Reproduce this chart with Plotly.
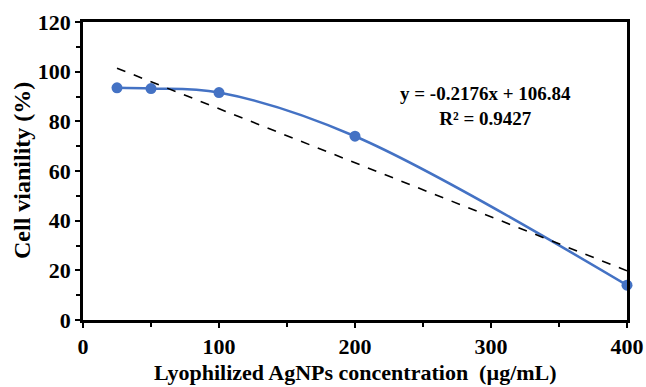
import plotly.graph_objects as go

conc = [25, 50, 100, 200, 400]
viability = [93.5, 93.2, 91.6, 74.0, 14.0]
slope = -0.2176
intercept = 106.84
trend_x = [25, 400]
trend_y = [slope * x + intercept for x in trend_x]
x_ticks = [0, 100, 200, 300, 400]
y_ticks = [0, 20, 40, 60, 80, 100, 120]

FONT = "Times New Roman, Liberation Serif, serif"

fig = go.Figure()
fig.add_trace(go.Scatter(
    x=conc, y=viability, mode="lines+markers",
    line=dict(color="#4472C4", width=2.5, shape="spline", smoothing=1.0),
    marker=dict(color="#4472C4", size=11),
    cliponaxis=False, showlegend=False))
fig.add_trace(go.Scatter(
    x=trend_x, y=trend_y, mode="lines",
    line=dict(color="black", width=1.6, dash="dash"),
    cliponaxis=False, showlegend=False))

fig.add_annotation(
    x=296, y=86.0, xref="x", yref="y",
    text="<b>y = -0.2176x + 106.84</b><br><b>R² = 0.9427</b>",
    showarrow=False, align="center",
    font=dict(family=FONT, size=19, color="black"))

# axis titles
fig.add_annotation(
    x=0.5, y=0, xref="paper", yref="paper", yshift=-52,
    text="<b>Lyophilized AgNPs concentration  (µg/mL)</b>",
    showarrow=False, xanchor="center", yanchor="middle",
    font=dict(family=FONT, size=22, color="black"))
fig.add_annotation(
    x=0, y=0.5, xref="paper", yref="paper", xshift=-61, yshift=0,
    text="<b>Cell vianility (%)</b>", textangle=-90,
    showarrow=False, xanchor="center", yanchor="middle",
    font=dict(family=FONT, size=24, color="black"))

axis_common = dict(
    showline=True, linewidth=2.5, linecolor="black", mirror=True,
    ticks="outside", ticklen=5, tickwidth=2, tickcolor="black",
    showgrid=False, zeroline=False, automargin=False,
    tickfont=dict(family=FONT, size=22, color="black"),
)

fig.update_xaxes(range=[0, 400], tickvals=x_ticks,
                 ticktext=["<b>%d</b>" % v for v in x_ticks],
                 minor=dict(ticks="outside", ticklen=4, tickwidth=2, tickcolor="black", dtick=50, tick0=0),
                 **axis_common)
fig.update_yaxes(range=[0, 120], tickvals=y_ticks,
                 ticktext=["<b>%d</b>" % v for v in y_ticks],
                 minor=dict(ticks="outside", ticklen=4, tickwidth=2, tickcolor="black", dtick=10, tick0=0),
                 **axis_common)

fig.update_layout(
    width=646, height=387,
    margin=dict(l=83, r=19, t=22, b=67),
    plot_bgcolor="white", paper_bgcolor="white",
)
fig.write_html("out.html")
